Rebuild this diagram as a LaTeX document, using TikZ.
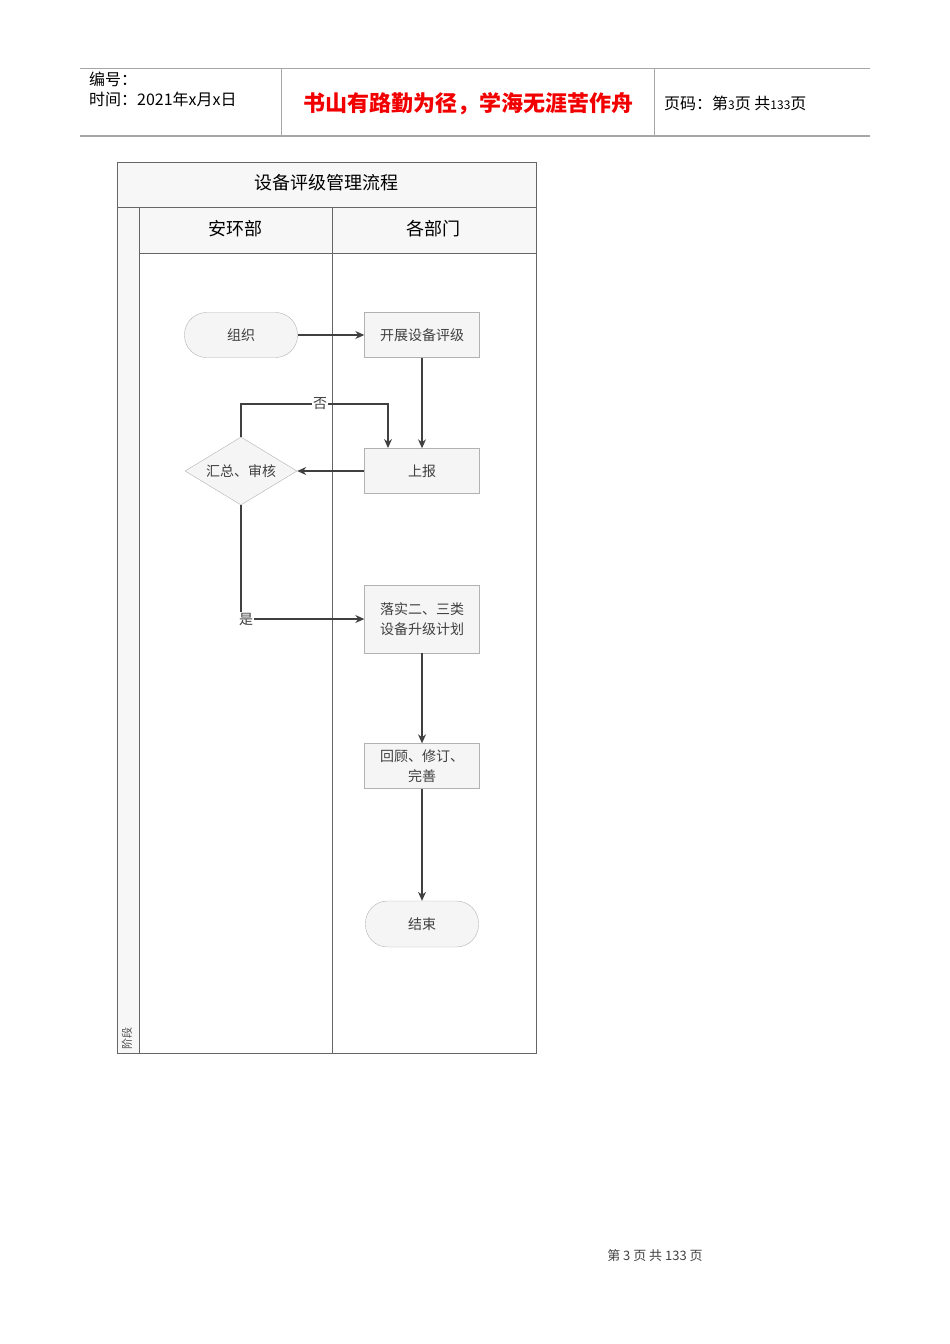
\documentclass[tikz,border=0pt]{standalone}
\usepackage{fontspec}
\setmainfont{Noto Sans CJK SC}
\usetikzlibrary{shapes.geometric,arrows.meta}
\begin{document}
\begin{tikzpicture}[x=1pt,y=-1pt,
  box/.style={draw=gray!60,fill=gray!8,minimum width=115pt,minimum height=45pt,inner sep=2pt,font=\fontsize{14}{20}\selectfont,text=black!75,align=center},
  term/.style={box,rounded corners=22pt,minimum width=113pt},
  dec/.style={draw=gray!60,fill=gray!8,diamond,aspect=1.65,minimum width=112pt,minimum height=68pt,inner sep=0pt,font=\fontsize{14}{16}\selectfont,text=black!75},
  arr/.style={draw=black!75,line width=1.2pt,-{Stealth[length=9pt,width=8pt]}},
  lbl/.style={fill=white,inner sep=1pt,font=\fontsize{14}{16}\selectfont,text=black!75},
  band/.style={draw=black!60,fill=gray!6}]
\useasboundingbox (0,0) rectangle (950,1344);
% header
\draw[gray!70,line width=0.8pt] (80,68) -- (870,68);
\draw[gray!70,line width=1.2pt] (80,136) -- (870,136);
\draw[gray!70] (281,68) -- (281,136) (654,68) -- (654,136);
\node[anchor=west,font=\fontsize{16}{18}\selectfont,inner sep=0pt] (bh) at (89,79) {编号：};
\node[anchor=west,font=\fontsize{16}{18}\selectfont,inner sep=0pt] (sj) at (89,99) {时间：2021年x月x日};
\node[font=\fontsize{22}{24}\selectfont\bfseries,text=red!95!black,inner sep=0pt] (motto) at (468,104) {书山有路勤为径，学海无涯苦作舟};
\node[anchor=west,font=\fontsize{16}{18}\selectfont,inner sep=0pt] (ym) at (664,103) {页码：第{\fontsize{12}{14}\selectfont 3}页 共{\fontsize{12}{14}\selectfont 133}页};
% pool
\draw[band] (117,162) rectangle (536,207);
\draw[band] (117,207) rectangle (139,1053);
\draw[band] (139,207) rectangle (332,253);
\draw[band] (332,207) rectangle (536,253);
\draw[black!60] (139,253) rectangle (332,1053);
\draw[black!60] (332,253) rectangle (536,1053);
\node[font=\fontsize{18}{20}\selectfont] (title) at (326,183) {设备评级管理流程};
\node[font=\fontsize{18}{20}\selectfont] (l1) at (235,229) {安环部};
\node[font=\fontsize{18}{20}\selectfont] (l2) at (433,229) {各部门};
\node[rotate=90,font=\fontsize{11}{13}\selectfont,text=black!70] (jd) at (127,1038) {阶段};
% nodes
\node[term] (zz) at (241,335) {组织};
\node[box] (kz) at (422,335) {开展设备评级};
\node[box] (sb) at (422,471) {上报};
\node[dec] (hz) at (241,471) {汇总、审核};
\node[box,minimum height=68pt] (ls) at (422,619) {落实二、三类\\设备升级计划};
\node[box] (hg) at (422,766) {回顾、修订、\\完善};
\node[term,minimum height=46pt] (js) at (422,924) {结束};
\coordinate (c1) at (241,404);
\coordinate (c2) at (388,404);
\coordinate (c3) at (388,448);
\coordinate (c4) at (241,619);
% edges
\draw[arr] (zz) -- (kz);
\draw[arr] (kz) -- (sb);
\draw[arr] (sb) -- (hz);
\draw[arr] (hz.north) -- (c1) -- (c2) -- (c3);
\node[lbl] (no) at (320,404) {否};
\draw[arr] (hz.south) -- (c4) -- (ls.west);
\node[lbl] (yes) at (246,619) {是};
\draw[arr] (ls) -- (hg);
\draw[arr] (hg) -- (js);
% footer
\node[font=\fontsize{13}{15}\selectfont,text=black!75] (ft) at (655,1256) {第 3 页 共 133 页};
\end{tikzpicture}
\end{document}
